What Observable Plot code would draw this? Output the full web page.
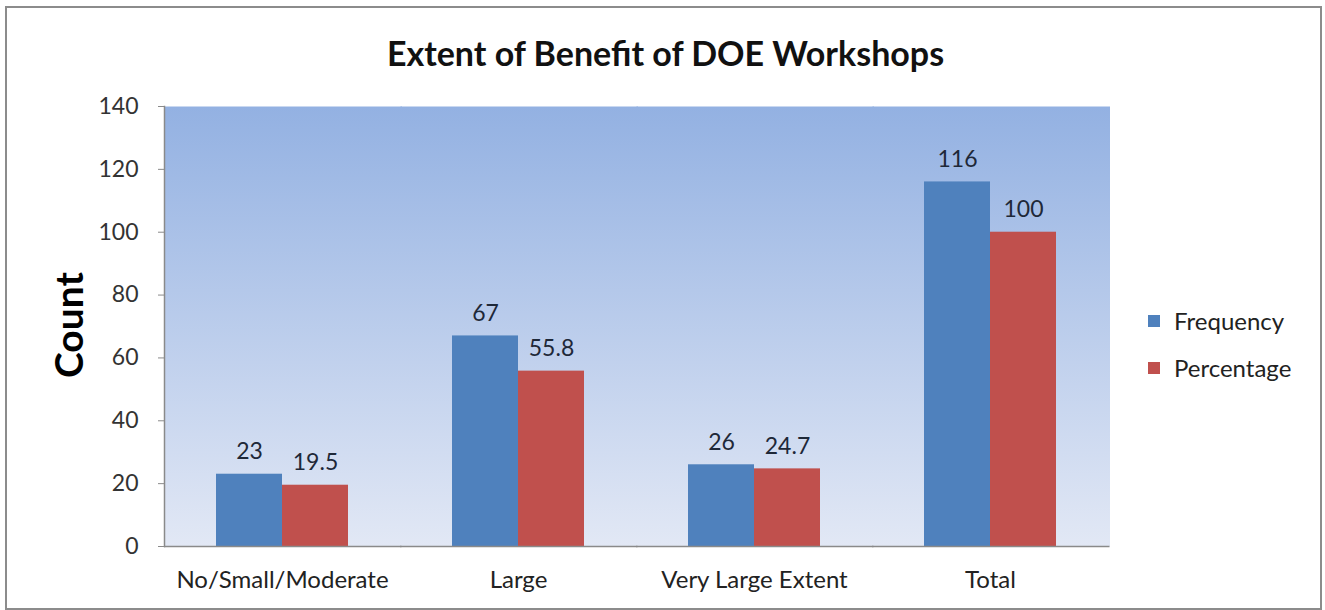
<!DOCTYPE html>
<html>
<head>
<meta charset="utf-8">
<script src="https://cdn.jsdelivr.net/npm/d3@7"></script>
<script src="https://cdn.jsdelivr.net/npm/@observablehq/plot@0.6"></script>
<style>
  html, body { margin: 0; padding: 0; background: #fff; }
  #wrap { position: relative; width: 1325px; height: 610px; overflow: hidden; font-family: Lato, "Open Sans", sans-serif; }
  #chart { position: absolute; left: 0; top: 0; }
  #title { position: absolute; left: 0; width: 1325px; top: 32px; text-align: center; font-weight: bold; font-size: 34px; color: #111; padding-left: 6px; box-sizing: border-box; }
  #ylabel { position: absolute; left: 68px; top: 325px; transform: translate(-50%, -50%) rotate(-90deg); font-weight: bold; font-size: 39px; color: #000; white-space: nowrap; }
  #legend { position: absolute; left: 1148px; top: 297px; font-size: 24px; color: #222; }
  #legend .item { display: flex; align-items: center; height: 47px; margin-top: 0; }
  #legend .sw { width: 12px; height: 12px; margin-right: 14px; }
  #border { position: absolute; left: 5px; top: 6px; width: 1313px; height: 600px; border: 2px solid #8c8c8c; pointer-events: none; }
</style>
</head>
<body>
<div id="wrap">
  <div id="chart"></div>
  <div id="title"></div>
  <div id="ylabel"></div>
  <div id="legend"></div>
  <div id="border"></div>
</div>
<script>
// ---- data ----
const title = "Extent of Benefit of DOE Workshops";
const yLabel = "Count";
const categories = ["No/Small/Moderate", "Large", "Very Large Extent", "Total"];
const series = ["Frequency", "Percentage"];
const frequency = [23, 67, 26, 116];
const percentage = [19.5, 55.8, 24.7, 100];
const yTicks = [0, 20, 40, 60, 80, 100, 120, 140];
const colors = ["#4f81bd", "#c0504d"];

const rows = [];
categories.forEach((c, i) => {
  rows.push({category: c, series: series[0], value: frequency[i]});
  rows.push({category: c, series: series[1], value: percentage[i]});
});

const plot = Plot.plot({
  width: 1325,
  height: 610,
  marginLeft: 163,
  marginRight: 216,
  marginTop: 106,
  marginBottom: 64,
  style: {fontFamily: "Lato, 'Open Sans', sans-serif", background: "transparent", overflow: "visible"},
  fx: {domain: categories, padding: 0, label: null},
  x: {domain: series, paddingInner: 0, paddingOuter: 0.765, axis: null},
  y: {domain: [0, 140], label: null},
  color: {domain: series, range: colors},
  marks: [
    Plot.frame({fill: "url(#bgGrad)", stroke: "none", insetRight: -1.5}),
    Plot.barY(rows, {fx: "category", x: "series", y: "value", fill: "series"}),
    Plot.ruleY([0], {stroke: "#8a8a8a", strokeWidth: 1.5, insetRight: -1.5}),
    Plot.frame({anchor: "left", facetAnchor: "left", stroke: "#8a8a8a", strokeWidth: 1.5}),
    Plot.text(rows, {fx: "category", x: "series", y: "value", text: d => String(d.value),
      lineAnchor: "bottom", dy: -15, fontSize: 23, fill: "#1e2838"}),
    Plot.axisY({ticks: yTicks, tickSize: 6, tickPadding: 20, fontSize: 23, label: null,
      stroke: "#8a8a8a", color: "#333"}),
    Plot.axisFx({anchor: "bottom", tickSize: 0, tickPadding: 24, fontSize: 24, label: null, color: "#222"})
  ]
});

const svg = plot.tagName.toLowerCase() === "svg" ? plot : plot.querySelector("svg");
const defs = d3.select(svg).insert("defs", ":first-child");
const grad = defs.append("linearGradient").attr("id", "bgGrad")
  .attr("x1", 0).attr("y1", 0).attr("x2", 0).attr("y2", 1);
grad.append("stop").attr("offset", "0%").attr("stop-color", "#93b1e2");
grad.append("stop").attr("offset", "100%").attr("stop-color", "#e2e8f5");

document.getElementById("chart").appendChild(plot);
document.getElementById("title").textContent = title;
document.getElementById("ylabel").textContent = yLabel;
const legend = document.getElementById("legend");
series.forEach((s, i) => {
  const item = document.createElement("div");
  item.className = "item";
  const sw = document.createElement("span");
  sw.className = "sw";
  sw.style.background = colors[i];
  const label = document.createElement("span");
  label.textContent = s;
  item.appendChild(sw);
  item.appendChild(label);
  legend.appendChild(item);
});
</script>
</body>
</html>
